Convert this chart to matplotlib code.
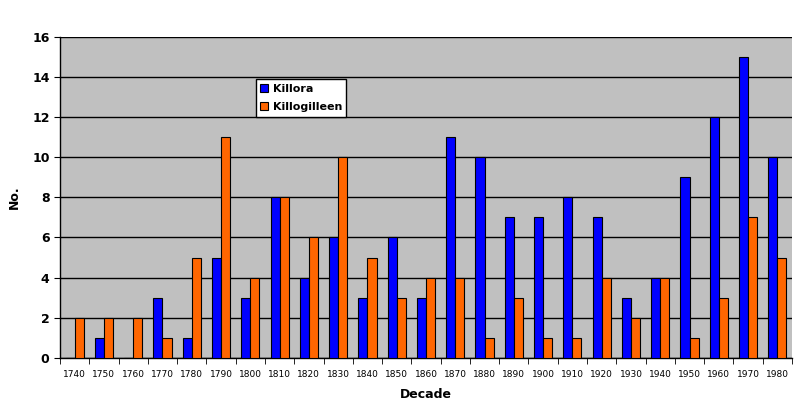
import numpy as np
import matplotlib.pyplot as plt

decades = [str(y) for y in range(1740, 1990, 10)]
killora = [0, 1, 0, 3, 1, 5, 3, 8, 4, 6, 3, 6, 3, 11, 10, 7, 7, 8, 7, 3, 4, 9, 12, 15, 10]
killogilleen = [2, 2, 2, 1, 5, 11, 4, 8, 6, 10, 5, 3, 4, 4, 1, 3, 1, 1, 4, 2, 4, 1, 3, 7, 5]

fig = plt.figure(figsize=(8, 4.19), dpi=100)
ax = fig.add_axes([0.075, 0.146, 0.915, 0.766])
ax.set_facecolor("#c0c0c0")

x = np.arange(len(decades))
w = 0.31
ax.bar(x - w / 2, killora, w, color="#0000ff", edgecolor="black", linewidth=0.8,
       label="Killora", zorder=3)
ax.bar(x + w / 2, killogilleen, w, color="#ff6600", edgecolor="black", linewidth=0.8,
       label="Killogilleen", zorder=3)

ax.set_xlim(-0.5, len(decades) - 0.5)
ax.set_ylim(0, 16)
ax.set_yticks(range(0, 17, 2))
ax.yaxis.grid(True, color="black", linewidth=1, zorder=1)
ax.set_axisbelow(True)

ax.set_xticks(x)
ax.set_xticklabels(decades, fontsize=6.5)
ax.set_xticks(np.arange(-0.5, len(decades), 1), minor=True)
ax.tick_params(axis="x", which="major", length=0, pad=9)
ax.tick_params(axis="x", which="minor", length=4, direction="out")
ax.tick_params(axis="y", labelsize=9, length=4, direction="out")
for lbl in ax.get_yticklabels():
    lbl.set_fontweight("bold")

for s in ["top", "right"]:
    ax.spines[s].set_visible(False)
ax.spines["left"].set_linewidth(1)
ax.spines["bottom"].set_linewidth(1)

ax.set_xlabel("Decade", fontsize=9, fontweight="bold", labelpad=6)
ax.set_ylabel("No.", fontsize=9, fontweight="bold", labelpad=8)

leg = ax.legend(loc="upper left", bbox_to_anchor=(0.26, 0.885), fontsize=8,
                frameon=True, fancybox=False, edgecolor="black", facecolor="white",
                handlelength=0.7, handleheight=0.7, handletextpad=0.4,
                borderpad=0.4, labelspacing=0.75, framealpha=1)
for t in leg.get_texts():
    t.set_fontweight("bold")

fig.savefig("out.png", dpi=100)
